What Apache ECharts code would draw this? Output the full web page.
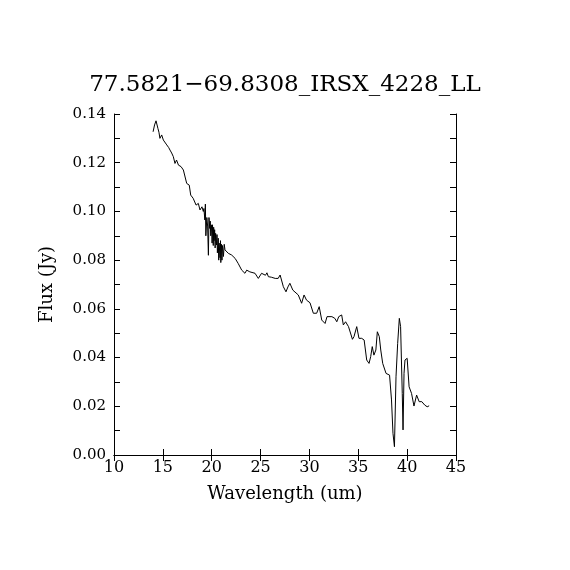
<!DOCTYPE html>
<html>
<head>
    <meta charset="utf-8">
    <script src="https://cdn.jsdelivr.net/npm/echarts@6/dist/echarts.min.js"></script>
    <style>
        html, body { margin: 0; padding: 0; background: #fff; }
        #main { width: 570px; height: 570px; }
    </style>
</head>
<body>
<div id="main"></div>
<script>
    // spectrum
    var wavelength = [
        14.0, 14.15, 14.3, 14.5, 14.6, 14.7, 14.88, 15.05, 15.2, 15.4, 15.6, 15.73, 15.9, 16.07, 16.24, 16.4, 16.6, 16.86, 17.1, 17.27,
        17.44, 17.7, 17.85, 18.1, 18.4, 18.63, 18.8, 19.0, 19.14, 19.2, 19.3, 19.35, 19.4, 19.5, 19.58, 19.66, 19.72, 19.8, 19.85, 19.9,
        20.0, 20.04, 20.08, 20.16, 20.2, 20.24, 20.3, 20.35, 20.4, 20.5, 20.54, 20.58, 20.67, 20.72, 20.76, 20.85, 20.9, 20.93, 21.0, 21.05,
        21.1, 21.2, 21.28, 21.36, 21.5, 21.7, 22.04, 22.4, 22.7,
        23.07, 23.4, 23.58, 23.9, 24.1, 24.43, 24.77, 25.1, 25.3, 25.5, 25.65, 25.8, 26.1, 26.5, 26.8, 27.0, 27.15, 27.33, 27.6, 27.8,
        28.0, 28.3, 28.5, 28.86, 29.2, 29.45, 29.7, 30.06, 30.4, 30.74, 31.0, 31.26, 31.6, 31.8, 32.0, 32.3, 32.6, 32.8, 33.0, 33.3,
        33.47, 33.7, 34.0, 34.2, 34.4, 34.56, 34.84, 35.07, 35.35, 35.6, 35.86, 36.1, 36.27, 36.43, 36.6, 36.8, 36.95, 37.15, 37.3, 37.5,
        37.67, 37.84, 38.2, 38.4, 38.55, 38.7, 38.86, 39.03, 39.2, 39.33, 39.5, 39.58, 39.68, 39.78, 40.0, 40.2, 40.45, 40.7, 40.97, 41.23,
        41.5, 41.8, 42.05, 42.25
    ];
    var flux = [
        0.1327, 0.1355, 0.1372, 0.1340, 0.1325, 0.1300, 0.1314, 0.1293, 0.1285, 0.1273, 0.1262, 0.1252, 0.1240, 0.1225, 0.1197, 0.1211, 0.1190, 0.1184, 0.1170, 0.1177,
        0.1115, 0.1108, 0.1067, 0.1054, 0.1026, 0.1033, 0.1006, 0.1019, 0.1000, 0.1012, 0.0965, 0.1030, 0.0900, 0.0975, 0.0940, 0.0820, 0.0975, 0.0930, 0.0960, 0.0900,
        0.0945, 0.0870, 0.0945, 0.0860, 0.0935, 0.0880, 0.0925, 0.0850, 0.0910, 0.0862, 0.0905, 0.0830, 0.0890, 0.0800, 0.0870, 0.0810, 0.0880, 0.0790, 0.0865, 0.0800,
        0.0860, 0.0815, 0.0865, 0.0842, 0.0835, 0.0828, 0.0821, 0.0807, 0.0787,
        0.0759, 0.0746, 0.0759, 0.0752, 0.0759, 0.0746, 0.0725, 0.0746, 0.0752, 0.0738, 0.0748, 0.0732, 0.0730, 0.0725, 0.0725, 0.0739, 0.0735, 0.0691, 0.0670, 0.0690,
        0.0705, 0.0677, 0.0670, 0.0657, 0.0623, 0.0657, 0.0636, 0.0625, 0.0582, 0.0582, 0.0609, 0.0554, 0.0540, 0.0568, 0.0561, 0.0568, 0.0561, 0.0547, 0.0568, 0.0575,
        0.0534, 0.0547, 0.0527, 0.0534, 0.0475, 0.0486, 0.0527, 0.0479, 0.0479, 0.0472, 0.0390, 0.0376, 0.0404, 0.0445, 0.0410, 0.0431, 0.0506, 0.0486, 0.0431, 0.0376,
        0.0383, 0.0335, 0.0328, 0.0226, 0.0089, 0.0034, 0.0321, 0.0458, 0.0561, 0.0527, 0.0253, 0.0103, 0.0335, 0.0390, 0.0397, 0.0280, 0.0253, 0.0201, 0.0246, 0.0219,
        0.0219, 0.0205, 0.0198, 0.0202
    ];
    var titleText = '77.5821\u221269.8308_IRSX_4228_LL';

    var points = [];
    for (var i = 0; i < wavelength.length; i++) {
        points.push([wavelength[i], flux[i]]);
    }

    var font = '"DejaVu Serif", "Liberation Serif", serif';
    var lineCol = '#000';

    var chart = echarts.init(document.getElementById('main'));
    chart.setOption({
        animation: false,
        backgroundColor: '#fff',
        title: {
            text: titleText,
            left: 'center',
            top: 69,
            textStyle: { fontFamily: font, fontSize: 23, fontWeight: 'normal', color: '#000' }
        },
        grid: { left: 114, right: 114, top: 114, bottom: 115 },
        xAxis: [{
            type: 'value', min: 10, max: 45, interval: 5,
            name: 'Wavelength (um)', nameLocation: 'middle', nameGap: 30,
            nameTextStyle: { fontFamily: font, fontSize: 18, color: '#000' },
            axisLine: { lineStyle: { color: lineCol, width: 1 } },
            axisTick: { inside: true, length: 6, lineStyle: { color: lineCol } },
            axisLabel: { fontFamily: font, fontSize: 16, color: '#000', margin: 5 },
            splitLine: { show: false }
        }, {
            type: 'value', min: 10, max: 45, interval: 5, position: 'top',
            axisLine: { lineStyle: { color: lineCol, width: 1 } },
            axisTick: { inside: true, length: 6, lineStyle: { color: lineCol } },
            axisLabel: { show: false },
            splitLine: { show: false }
        }],
        yAxis: [{
            type: 'value', min: 0, max: 0.14, interval: 0.02,
            name: 'Flux (Jy)', nameLocation: 'middle', nameGap: 58,
            nameTextStyle: { fontFamily: font, fontSize: 18, color: '#000' },
            axisLine: { show: true, lineStyle: { color: lineCol, width: 1 } },
            axisTick: { show: true, inside: true, length: 6, lineStyle: { color: lineCol } },
            minorTick: { show: true, splitNumber: 2, length: 6, lineStyle: { color: lineCol } },
            axisLabel: {
                fontFamily: font, fontSize: 15, color: '#000', margin: 8,
                formatter: function (v) { return v.toFixed(2); }
            },
            splitLine: { show: false }
        }, {
            type: 'value', min: 0, max: 0.14, interval: 0.02, position: 'right',
            axisLine: { show: true, lineStyle: { color: lineCol, width: 1 } },
            axisTick: { show: true, inside: true, length: 6, lineStyle: { color: lineCol } },
            minorTick: { show: true, splitNumber: 2, length: 6, lineStyle: { color: lineCol } },
            axisLabel: { show: false },
            splitLine: { show: false }
        }],
        series: [{
            type: 'line',
            data: points,
            showSymbol: false,
            symbol: 'none',
            lineStyle: { color: '#000', width: 1 },
            silent: true
        }]
    });
</script>
</body>
</html>
